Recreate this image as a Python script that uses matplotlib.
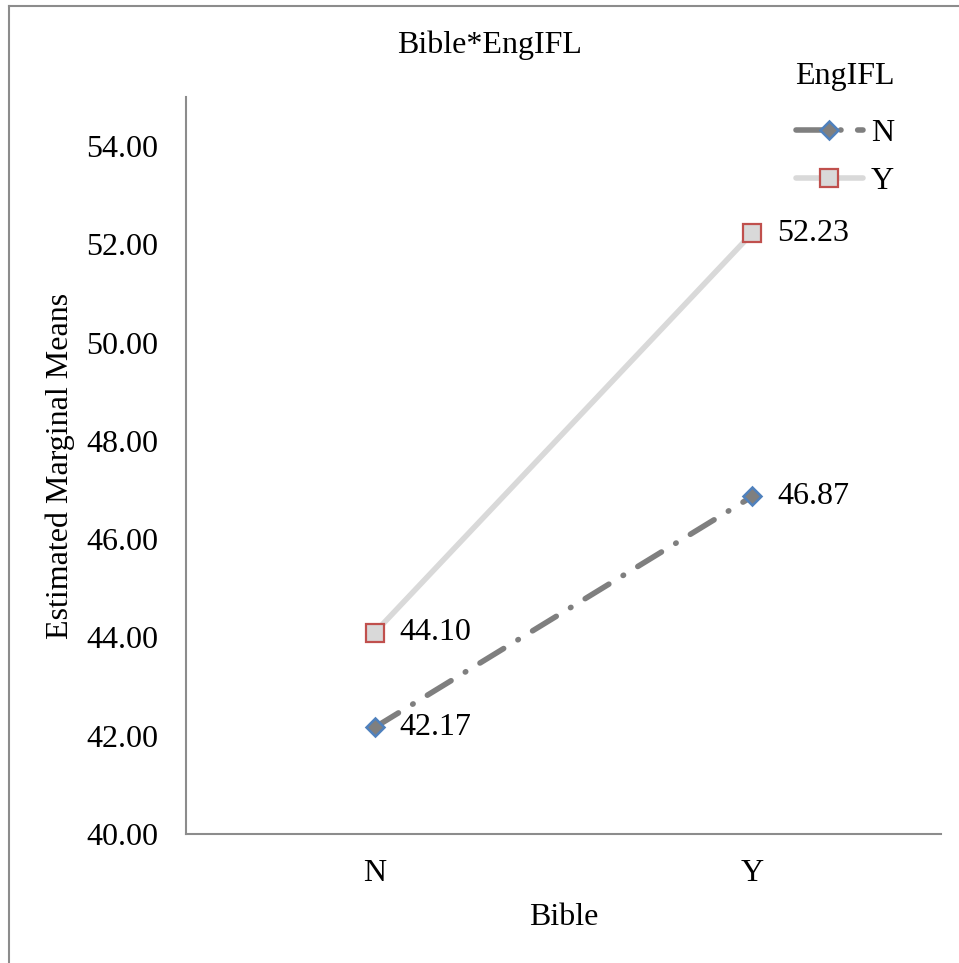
import matplotlib.pyplot as plt
from matplotlib.lines import Line2D

plt.rcParams['font.family'] = ['Liberation Serif', 'DejaVu Serif']

# Estimated marginal means for Bible x EngIFL
bible = ['N', 'Y']
engifl_n = [42.17, 46.87]
engifl_y = [44.10, 52.23]
yticks = [40, 42, 44, 46, 48, 50, 52, 54]

FS = 23

fig = plt.figure(figsize=(9.59, 9.63), dpi=100)
ax = fig.add_axes([186 / 959, 1 - 834 / 963, 755 / 959, (834 - 97) / 963])

x = list(range(len(bible)))

ax.plot(x, engifl_n, color='#7f7f7f', lw=4, linestyle=(0, (5, 3, 0.1, 3)),
        dash_capstyle='round', marker='D', markersize=9,
        markerfacecolor='#7f7f7f', markeredgecolor='#4f81bd', markeredgewidth=1.8,
        label='N', zorder=3)
ax.plot(x, engifl_y, color='#d9d9d9', lw=4, solid_capstyle='round',
        marker='s', markersize=13,
        markerfacecolor='#d9d9d9', markeredgecolor='#c0504d', markeredgewidth=1.6,
        label='Y', zorder=3)

# value labels to the right of each point
for series in (engifl_n, engifl_y):
    for xi, v in zip(x, series):
        ax.annotate(f'{v:.2f}', (xi, v), xytext=(18, 0), textcoords='offset points',
                    va='center', ha='left', fontsize=FS)

ax.set_xlim(-0.5, 1.5)
ax.set_ylim(40, 55)
ax.set_xticks(x)
ax.set_xticklabels(bible)
ax.set_yticks(yticks)
ax.set_yticklabels([f'{t:.2f}' for t in yticks])
ax.tick_params(length=0, labelsize=FS)
ax.tick_params(axis='x', pad=18)
ax.tick_params(axis='y', pad=20)

for s in ('top', 'right'):
    ax.spines[s].set_visible(False)
for s in ('left', 'bottom'):
    ax.spines[s].set_color('#8c8c8c')
    ax.spines[s].set_linewidth(1.5)

ax.set_xlabel('Bible', fontsize=FS, labelpad=11)
ax.set_ylabel('Estimated Marginal Means', fontsize=FS, labelpad=8)
fig.text(489 / 959, 1 - 45 / 963, 'Bible*EngIFL', ha='center', va='center', fontsize=FS)

leg = ax.legend(title='EngIFL', loc='upper left', bbox_to_anchor=(795 / 959, 1 - 62 / 963),
                bbox_transform=fig.transFigure, frameon=False, fontsize=FS,
                title_fontsize=FS, handlelength=2.1, handletextpad=0.25,
                labelspacing=0.58, borderpad=0, borderaxespad=0)
# more room between the legend title and its entries
leg._legend_box.sep = 20

# outer frame lines
fig.add_artist(Line2D([9 / 959, 9 / 959], [0, 1 - 6 / 963], color='#8c8c8c', lw=1.5))
fig.add_artist(Line2D([9 / 959, 1], [1 - 6 / 963, 1 - 6 / 963], color='#8c8c8c', lw=1.5))

fig.savefig('out.png', dpi=100)
